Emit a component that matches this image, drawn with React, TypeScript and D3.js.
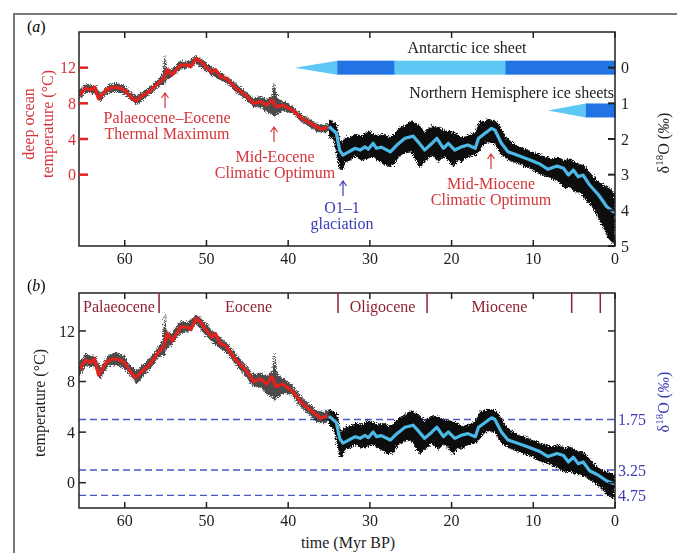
import * as d3 from "d3";
import React from "react";

const W = 677;
const H = 553;
const LEFT = 79;
const RIGHT = 615;
const A = { top: 32, bottom: 246 };
const B = { top: 293, bottom: 508 };
const FONT = '"Liberation Serif", "Times New Roman", Times, "DejaVu Serif", serif';

// smoothed deep ocean temperature (°C), Palaeocene + Eocene
const redTime = [65.6, 64.8, 64.2, 63.7, 63.2, 62.3, 61.5, 60.5, 59.9, 59.3, 58.7, 58.0, 57.0, 56.0, 55.2, 54.8, 54.2, 53.2, 52.3, 51.9, 51.3, 50.7, 50.1, 49.3, 48.9, 48.3, 47.6, 46.4, 45.2, 44.2, 43.4, 42.6, 42.0, 41.5, 40.7, 39.5, 38.3, 37.0, 36.0, 35.2];
const redTemp = [8.9, 9.7, 9.5, 9.8, 8.5, 9.5, 9.8, 9.7, 9.4, 8.75, 8.3, 8.75, 9.3, 10.2, 10.8, 11.8, 11.2, 12.3, 12.3, 12.1, 13.0, 12.7, 12.1, 11.5, 11.8, 11.0, 10.8, 9.7, 8.9, 8.0, 8.2, 7.8, 8.4, 7.6, 7.8, 7.25, 6.3, 5.6, 5.1, 5.3];

// smoothed d18O (permil), Oligocene onwards
const blueTime = [35.0, 34.1, 33.7, 33.3, 32.6, 31.8, 31.2, 30.6, 30.2, 29.6, 29.2, 28.6, 27.5, 26.7, 25.7, 24.7, 24.1, 23.3, 22.4, 21.8, 21.0, 20.4, 19.6, 18.8, 18.0, 17.1, 16.7, 15.9, 15.1, 14.7, 13.9, 13.1, 12.0, 10.4, 9.2, 8.2, 7.1, 6.3, 5.7, 5.1, 4.5, 3.9, 3.1, 2.0, 1.0, 0.2, 0];
const blueD18O = [1.65, 1.84, 2.31, 2.45, 2.36, 2.26, 2.31, 2.22, 2.29, 2.12, 2.26, 2.23, 2.36, 2.17, 1.98, 1.92, 2.08, 2.31, 2.12, 1.98, 2.26, 2.12, 2.31, 2.22, 2.17, 2.26, 1.98, 1.84, 1.7, 1.75, 2.12, 2.36, 2.45, 2.59, 2.7, 2.85, 2.76, 2.82, 3.01, 2.87, 3.06, 3.01, 3.29, 3.57, 3.9, 4.04, 4.05];

// spread of the raw measurements (temperature, before 35 Myr)
const earlyTime = [65.6, 64.8, 63.6, 63.0, 62.0, 61.0, 60.0, 59.2, 58.5, 57.5, 56.5, 55.8, 55.4, 55.1, 54.9, 54.3, 53.2, 52.3, 51.3, 50.3, 49.3, 48.3, 47.3, 46.3, 45.3, 44.3, 43.3, 42.5, 42.0, 41.7, 41.5, 41.2, 40.5, 39.5, 38.5, 37.5, 36.5, 35.6, 35.0];
const earlyLo = [8.4, 9.2, 9.1, 8.2, 9.2, 9.3, 9.0, 8.3, 7.8, 8.6, 9.3, 9.9, 10.1, 10.0, 10.6, 10.9, 11.8, 11.9, 12.5, 11.8, 11.1, 10.6, 10.1, 9.2, 8.5, 7.6, 7.5, 6.9, 6.8, 6.5, 6.6, 6.8, 7.1, 6.9, 6.0, 5.4, 4.8, 4.7, 4.8];
const earlyHi = [9.5, 10.2, 10.0, 9.1, 10.1, 10.3, 10.0, 9.2, 8.9, 9.5, 10.2, 10.8, 11.2, 13.6, 12.0, 11.8, 12.8, 12.7, 13.3, 12.8, 12.0, 11.5, 10.9, 10.1, 9.4, 8.6, 8.7, 8.5, 8.8, 10.3, 9.2, 8.5, 8.2, 7.7, 6.9, 6.3, 5.7, 5.6, 5.8];

// spread of the raw measurements (d18O, from 35 Myr)
const lateTime = [35.0, 34.5, 34.0, 33.7, 33.4, 33.0, 32.4, 31.8, 31.0, 30.2, 29.6, 29.0, 28.3, 27.7, 27.0, 26.5, 25.7, 24.9, 24.4, 23.9, 23.3, 22.4, 21.6, 21.0, 20.6, 19.8, 19.2, 18.8, 18.0, 17.1, 16.5, 16.0, 15.5, 14.7, 14.2, 13.9, 13.3, 12.6, 11.8, 11.0, 10.2, 9.4, 8.5, 7.7, 6.9, 6.1, 5.5, 4.9, 4.3, 3.7, 3.0, 2.4, 1.6, 0.8, 0.2, 0];
const lateLo = [1.45, 1.5, 1.6, 2.0, 2.1, 1.95, 1.95, 1.85, 1.9, 1.76, 1.85, 1.9, 1.85, 1.95, 1.85, 1.71, 1.6, 1.48, 1.55, 1.62, 1.8, 1.62, 1.67, 1.75, 1.76, 1.8, 1.85, 1.95, 1.9, 1.8, 1.48, 1.5, 1.43, 1.48, 1.6, 1.71, 1.95, 2.09, 2.2, 2.27, 2.35, 2.41, 2.5, 2.55, 2.51, 2.6, 2.55, 2.65, 2.7, 2.74, 2.95, 3.11, 3.25, 3.35, 3.49, 3.5];
const lateHi = [1.95, 2.0, 2.5, 2.85, 2.9, 2.65, 2.6, 2.5, 2.6, 2.55, 2.5, 2.6, 2.7, 2.79, 2.7, 2.51, 2.4, 2.37, 2.6, 2.79, 2.65, 2.46, 2.65, 2.5, 2.55, 2.79, 2.6, 2.65, 2.51, 2.46, 2.32, 2.15, 2.09, 2.13, 2.35, 2.46, 2.55, 2.65, 2.7, 2.79, 2.85, 2.97, 3.05, 3.11, 3.21, 3.39, 3.35, 3.49, 3.5, 3.68, 3.85, 4.05, 4.42, 4.8, 4.94, 4.9];

const timeTicks = [60, 50, 40, 30, 20, 10, 0];
const tempTicks = [12, 8, 4, 0];
const d18Ticks = [0, 1, 2, 3, 4, 5];
const d18Marks = [1.75, 3.25, 4.75];
const d18MarkTemps = [5, 1, -1];

const epochBounds = [55.8, 33.9, 23.0, 5.3, 1.8];
const epochNames = ["Palaeocene", "Eocene", "Oligocene", "Miocene"];

// ice sheets: segment edges (Myr) and kind
const antEdges = [39.2, 34.0, 27.0, 13.4, 0];
const antKinds = ["taper", "full", "part", "full"];
const nhEdges = [8.2, 3.6, 0];
const nhKinds = ["taper", "full"];

const RED = "#e3221e";
const RED_TXT = "#d4343a";
const CYAN = "#4cb8e6";
const LIGHT = "#5ec8f4";
const DARK = "#2274e4";
const NAVY = "#3a3cb4";
const EPOCH = "#8e2233";

const x = d3.scaleLinear().domain([65.6, 0]).range([LEFT, RIGHT]);
const tA = d3.scaleLinear().domain([-8, 16]).range([A.bottom, A.top]);
const dA = d3.scaleLinear().domain([5, -1]).range([A.bottom, A.top]);
const tB = d3.scaleLinear().domain([-2, 15]).range([B.bottom, B.top]);
const dToT = d3.scaleLinear().domain(d18Marks).range(d18MarkTemps);
const dB = (d: number) => tB(dToT(d));

type P = { t: number; v: number };
type E = { t: number; lo: number; hi: number };

const red: P[] = redTime.map((t, i) => ({ t, v: redTemp[i] }));
const blue: P[] = blueTime.map((t, i) => ({ t, v: blueD18O[i] }));
const early: E[] = earlyTime.map((t, i) => ({ t, lo: earlyLo[i], hi: earlyHi[i] }));
const late: E[] = lateTime.map((t, i) => ({ t, lo: lateLo[i], hi: lateHi[i] }));

const line = (y: (v: number) => number) =>
  d3.line<P>().x((p) => x(p.t)).y((p) => y(p.v));
const band = (y: (v: number) => number) =>
  d3.area<E>().x((p) => x(p.t)).y0((p) => y(p.lo)).y1((p) => y(p.hi));

function Arrow({ cx, y0, y1, color }: { cx: number; y0: number; y1: number; color: string }) {
  return (
    <path
      d={`M${cx},${y1} L${cx},${y0} M${cx - 3.5},${y0 + 5} L${cx},${y0} L${cx + 3.5},${y0 + 5}`}
      stroke={color}
      strokeWidth={1.2}
      fill="none"
    />
  );
}

function IceBar({ edges, kinds, cy }: { edges: number[]; kinds: string[]; cy: number }) {
  const h = 14;
  return (
    <g>
      {kinds.map((k, i) => {
        const x0 = x(edges[i]);
        const x1 = x(edges[i + 1]);
        if (k === "taper")
          return <path key={i} d={`M${x0},${cy} L${x1},${cy - h / 2} L${x1},${cy + h / 2} Z`} fill={LIGHT} />;
        return <rect key={i} x={x0} y={cy - h / 2} width={x1 - x0 + 0.5} height={h} fill={k === "full" ? DARK : LIGHT} />;
      })}
    </g>
  );
}

function Delta({ cx, cy, color }: { cx: number; cy: number; color: string }) {
  return (
    <text transform={`translate(${cx},${cy}) rotate(-90)`} textAnchor="middle" fontSize={16} fill={color} dy="0.35em">
      δ<tspan fontSize={11} dy={-6}>18</tspan>
      <tspan dy={6}>O (</tspan>
      <tspan fontStyle="italic">‰</tspan>
      <tspan>)</tspan>
    </text>
  );
}

function Scatter({ y, yLate }: { y: (v: number) => number; yLate: (v: number) => number }) {
  return (
    <g filter="url(#rough)">
      <path d={band(y)(early) || ""} fill="#151515" opacity={0.75} />
      <path d={band(yLate)(late) || ""} fill="#0d0d0d" />
    </g>
  );
}

export default function App() {
  return (
    <svg width={W} height={H} style={{ position: "absolute", left: 0, top: 0, background: "#fff", fontFamily: FONT }}>
      <defs>
        <clipPath id="clipA">
          <rect x={LEFT} y={A.top} width={RIGHT - LEFT} height={A.bottom - A.top} />
        </clipPath>
        <clipPath id="clipB">
          <rect x={LEFT} y={B.top} width={RIGHT - LEFT} height={B.bottom - B.top} />
        </clipPath>
        <filter id="rough" x="-2%" y="-10%" width="104%" height="120%">
          <feTurbulence type="fractalNoise" baseFrequency="0.9" numOctaves={2} seed={4} result="n" />
          <feDisplacementMap in="SourceGraphic" in2="n" scale={6} xChannelSelector="R" yChannelSelector="G" />
        </filter>
      </defs>
      <path d={`M14,${H} L14,14 L${W},14`} stroke="#7a7a7a" strokeWidth={2} fill="none" />

      {/* ---------- panel (a) ---------- */}
      <text x={27} y={32} fontSize={16}>
        (<tspan fontStyle="italic">a</tspan>)
      </text>
      <g clipPath="url(#clipA)">
        <Scatter y={tA} yLate={dA} />
        <path d={line(tA)(red) || ""} stroke={RED} strokeWidth={3.2} fill="none" strokeLinejoin="round" />
        <path d={line(dA)(blue) || ""} stroke={CYAN} strokeWidth={3.2} fill="none" strokeLinejoin="round" />
      </g>
      <IceBar edges={antEdges} kinds={antKinds} cy={dA(0)} />
      <IceBar edges={nhEdges} kinds={nhKinds} cy={dA(1.2)} />
      <text x={467} y={53} fontSize={16} textAnchor="middle" fill="#222">Antarctic ice sheet</text>
      <text x={614} y={98} fontSize={16} textAnchor="end" fill="#222">Northern Hemisphere ice sheets</text>

      <rect x={LEFT} y={A.top} width={RIGHT - LEFT} height={A.bottom - A.top} fill="none" stroke="#222" strokeWidth={1.5} />
      {timeTicks.map((t) => (
        <g key={t}>
          <line x1={x(t)} x2={x(t)} y1={A.bottom} y2={A.bottom - 6} stroke="#222" strokeWidth={1.5} />
          <line x1={x(t)} x2={x(t)} y1={A.top} y2={A.top + 6} stroke="#222" strokeWidth={1.5} />
          <text x={x(t)} y={263.5} fontSize={16} textAnchor="middle" fill="#222">{t}</text>
        </g>
      ))}
      {tempTicks.map((v) => (
        <g key={v}>
          <line x1={LEFT} x2={LEFT + 9} y1={tA(v)} y2={tA(v)} stroke={RED} strokeWidth={2.5} />
          <text x={76} y={tA(v)} dy="0.35em" fontSize={16} textAnchor="end" fill={RED_TXT}>{v}</text>
        </g>
      ))}
      {d18Ticks.map((v) => (
        <g key={v}>
          <line x1={RIGHT - 7} x2={RIGHT} y1={dA(v)} y2={dA(v)} stroke="#222" strokeWidth={2} />
          <text x={621} y={dA(v)} dy="0.35em" fontSize={16} fill="#222">{v}</text>
        </g>
      ))}
      <text transform="translate(28,124) rotate(-90)" textAnchor="middle" dy="0.35em" fontSize={16} fill={RED_TXT}>deep ocean</text>
      <text transform="translate(47,124) rotate(-90)" textAnchor="middle" dy="0.35em" fontSize={16} fill={RED_TXT}>temperature (°C)</text>
      <Delta cx={663} cy={143} color="#222" />

      <Arrow cx={165} y0={93} y1={108} color={RED_TXT} />
      <text x={167} y={123} fontSize={16} textAnchor="middle" fill={RED_TXT}>Palaeocene–Eocene</text>
      <text x={167} y={139} fontSize={16} textAnchor="middle" fill={RED_TXT}>Thermal Maximum</text>
      <Arrow cx={274} y0={127} y1={142} color={RED_TXT} />
      <text x={275} y={161.5} fontSize={16} textAnchor="middle" fill={RED_TXT}>Mid-Eocene</text>
      <text x={275} y={177.5} fontSize={16} textAnchor="middle" fill={RED_TXT}>Climatic Optimum</text>
      <Arrow cx={343} y0={181} y1={196} color={NAVY} />
      <text x={342} y={213} fontSize={16} textAnchor="middle" fill={NAVY}>O1–1</text>
      <text x={342} y={229} fontSize={16} textAnchor="middle" fill={NAVY}>glaciation</text>
      <Arrow cx={491} y0={154} y1={169} color={RED_TXT} />
      <text x={491} y={189} fontSize={16} textAnchor="middle" fill={RED_TXT}>Mid-Miocene</text>
      <text x={491} y={205} fontSize={16} textAnchor="middle" fill={RED_TXT}>Climatic Optimum</text>

      {/* ---------- panel (b) ---------- */}
      <text x={27} y={291} fontSize={16}>
        (<tspan fontStyle="italic">b</tspan>)
      </text>
      {d18MarkTemps.map((v) => (
        <line key={v} x1={LEFT} x2={RIGHT} y1={tB(v)} y2={tB(v)} stroke="#4b56c2" strokeWidth={1.4} strokeDasharray="7,4" />
      ))}
      <g clipPath="url(#clipB)">
        <Scatter y={tB} yLate={dB} />
        <path d={line(tB)(red) || ""} stroke={RED} strokeWidth={3.2} fill="none" strokeLinejoin="round" />
        <path d={line(dB)(blue) || ""} stroke={CYAN} strokeWidth={3.2} fill="none" strokeLinejoin="round" />
      </g>
      <rect x={LEFT} y={B.top} width={RIGHT - LEFT} height={B.bottom - B.top} fill="none" stroke="#222" strokeWidth={1.5} />
      {timeTicks.map((t) => (
        <g key={t}>
          <line x1={x(t)} x2={x(t)} y1={B.bottom} y2={B.bottom - 6} stroke="#222" strokeWidth={1.5} />
          <line x1={x(t)} x2={x(t)} y1={B.top} y2={B.top + 6} stroke="#222" strokeWidth={1.5} />
          <text x={x(t)} y={525.5} fontSize={16} textAnchor="middle" fill="#222">{t}</text>
        </g>
      ))}
      {tempTicks.map((v) => (
        <g key={v}>
          <line x1={LEFT} x2={LEFT + 7} y1={tB(v)} y2={tB(v)} stroke="#222" strokeWidth={1.5} />
          <line x1={RIGHT - 7} x2={RIGHT} y1={tB(v)} y2={tB(v)} stroke="#222" strokeWidth={1.5} />
          <text x={75} y={tB(v)} dy="0.35em" fontSize={16} textAnchor="end" fill="#222">{v}</text>
        </g>
      ))}
      {d18Marks.map((v) => (
        <text key={v} x={618} y={dB(v)} dy="0.35em" fontSize={16} fill={NAVY}>{v.toFixed(2)}</text>
      ))}
      {epochBounds.map((t) => (
        <line key={t} x1={x(t)} x2={x(t)} y1={B.top} y2={B.top + 20} stroke={EPOCH} strokeWidth={1.5} />
      ))}
      {epochNames.map((n, i) => {
        const right = epochBounds[i];
        const left = i === 0 ? 65.6 : epochBounds[i - 1];
        return i === 0 ? (
          <text key={n} x={LEFT + 4} y={312} fontSize={16} fill={EPOCH}>{n}</text>
        ) : (
          <text key={n} x={x((left + right) / 2)} y={312} fontSize={16} textAnchor="middle" fill={EPOCH}>{n}</text>
        );
      })}
      <text transform="translate(39,403) rotate(-90)" textAnchor="middle" dy="0.35em" fontSize={16} fill="#222">temperature (°C)</text>
      <Delta cx={663} cy={402} color={NAVY} />
      <text x={348} y={548} fontSize={16} textAnchor="middle" fill="#222">time (Myr BP)</text>
    </svg>
  );
}
